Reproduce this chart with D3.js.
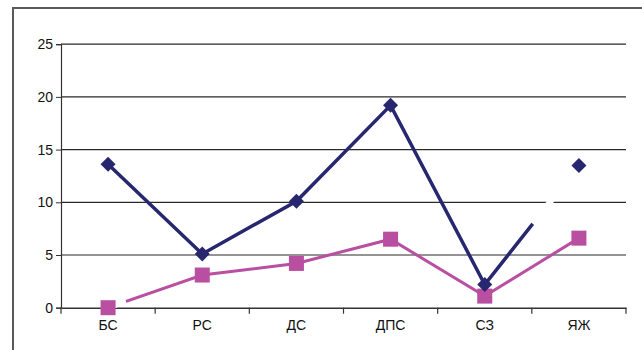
<!DOCTYPE html>
<html>
<head>
<meta charset="utf-8">
<script src="https://cdn.jsdelivr.net/npm/d3@7"></script>
<style>
  html, body { margin: 0; padding: 0; background: #fff; }
  svg { display: block; font-family: "Liberation Sans", Arial, sans-serif; }
</style>
</head>
<body>
<svg id="chart" width="642" height="350"></svg>
<script>
// Categories and series values
const categories = ["БС", "РС", "ДС", "ДПС", "СЗ", "ЯЖ"];
const seriesA = [13.6, 5.1, 10.1, 19.2, 2.2, 13.5];
const seriesB = [0, 3.1, 4.2, 6.5, 1.1, 6.6];
const yTicks = [0, 5, 10, 15, 20, 25];

// Parts of lines left blank: [segment start index, fraction where blank begins, fraction where it ends]
const blankA = [[4, 0.51, 1]];
const blankB = [[0, 0, 0.19]];

const svg = d3.select("#chart");
const margin = { left: 61, right: 16, top: 44.2, bottom: 42.3 };
const W = 642, H = 350;
const FONT = "'Liberation Sans', Arial, sans-serif";

// Outer frame
svg.append("rect")
  .attr("x", 13).attr("y", 8)
  .attr("width", 660).attr("height", 360)
  .attr("fill", "none").attr("stroke", "#5a5a5a").attr("stroke-width", 2);

const x = d3.scaleBand().domain(categories).range([margin.left, W - margin.right]);
const y = d3.scaleLinear().domain([0, 25]).range([H - margin.bottom, margin.top]);
const cx = c => x(c) + x.bandwidth() / 2;

// Horizontal gridlines
svg.append("g").selectAll("line").data(yTicks.filter(d => d > 0)).join("line")
  .attr("x1", margin.left).attr("x2", W - margin.right)
  .attr("y1", d => y(d)).attr("y2", d => y(d))
  .attr("stroke", "#2a2a2a").attr("stroke-width", 1.2);

// Y axis
const yAxis = svg.append("g")
  .attr("transform", `translate(${margin.left},0)`)
  .call(d3.axisLeft(y).tickValues(yTicks).tickSize(5).tickPadding(3));
yAxis.select(".domain").attr("stroke", "#333").attr("stroke-width", 1.2);
yAxis.selectAll(".tick line").attr("stroke", "#333");
yAxis.selectAll("text").attr("font-size", 14).attr("fill", "#111")
  .attr("font-family", FONT);

// X axis with ticks on category boundaries
const xAxis = svg.append("g")
  .attr("transform", `translate(0,${y(0)})`)
  .call(d3.axisBottom(x).tickSize(0).tickPadding(12));
xAxis.select(".domain").attr("stroke", "#333").attr("stroke-width", 1.4);
xAxis.selectAll("text").attr("font-size", 14).attr("fill", "#111")
  .attr("font-family", FONT);
const bounds = categories.map(c => x(c) + x.bandwidth()).concat([x(categories[0])]);
svg.append("g").selectAll("line").data(bounds).join("line")
  .attr("x1", d => d).attr("x2", d => d)
  .attr("y1", y(0)).attr("y2", y(0) + 6)
  .attr("stroke", "#333").attr("stroke-width", 1.2);

const line = d3.line().x((d, i) => cx(categories[i])).y(d => y(d));

function drawSeries(values, color, width, blanks) {
  svg.append("path").datum(values)
    .attr("d", line).attr("fill", "none")
    .attr("stroke", color).attr("stroke-width", width)
    .attr("stroke-linejoin", "miter");
  // blank out the listed pieces of the line
  blanks.forEach(([i, f0, f1]) => {
    const x0 = cx(categories[i]), x1 = cx(categories[i + 1]);
    const y0 = y(values[i]), y1 = y(values[i + 1]);
    svg.append("line")
      .attr("x1", x0 + (x1 - x0) * f0).attr("y1", y0 + (y1 - y0) * f0)
      .attr("x2", x0 + (x1 - x0) * f1).attr("y2", y0 + (y1 - y0) * f1)
      .attr("stroke", "#fff").attr("stroke-width", width + 2.5);
  });
}

drawSeries(seriesB, "#b94fa0", 3, blankB);
drawSeries(seriesA, "#27276f", 3.5, blankA);

// Square markers
svg.append("g").selectAll("rect").data(seriesB).join("rect")
  .attr("x", (d, i) => cx(categories[i]) - 7.5)
  .attr("y", d => y(d) - 7.5)
  .attr("width", 15).attr("height", 15)
  .attr("fill", "#b94fa0");

// Diamond markers
svg.append("g").selectAll("path").data(seriesA).join("path")
  .attr("d", (d, i) => {
    const px = cx(categories[i]), py = y(d), r = 7.5;
    return `M${px},${py - r}L${px + r},${py}L${px},${py + r}L${px - r},${py}Z`;
  })
  .attr("fill", "#27276f");
</script>
</body>
</html>
